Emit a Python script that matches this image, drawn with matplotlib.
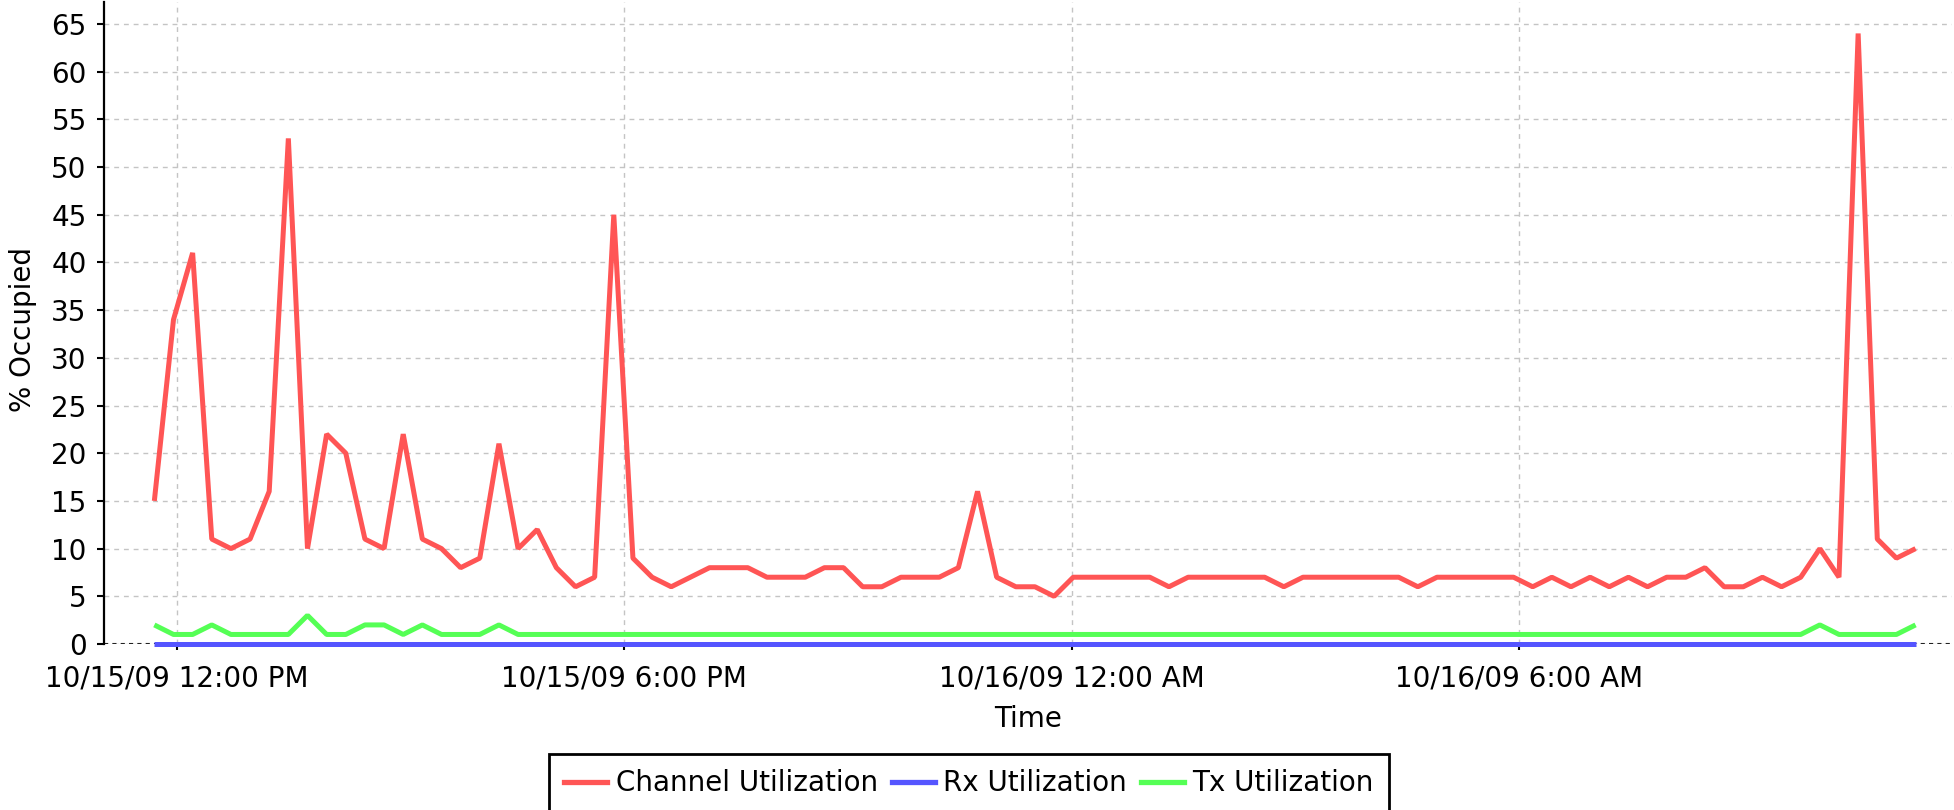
import matplotlib
matplotlib.use("Agg")
import matplotlib.pyplot as plt
import matplotlib.dates as mdates
from matplotlib.ticker import FuncFormatter
from matplotlib.lines import Line2D
import pandas as pd

plt.rcParams['font.family'] = ['DejaVu Sans']

# ---------------- data ----------------
start_time = "2009-10-15 11:42:00"
sample_step = "924s"
x_min = "2009-10-15 11:01:30"
x_max = "2009-10-16 11:48:06"

channel_util = [
    15, 34, 41, 11, 10, 11, 16, 53, 10, 22,
    20, 11, 10, 22, 11, 10, 8, 9, 21, 10,
    12, 8, 6, 7, 45, 9, 7, 6, 7, 8,
    8, 8, 7, 7, 7, 8, 8, 6, 6, 7,
    7, 7, 8, 16, 7, 6, 6, 5, 7, 7,
    7, 7, 7, 6, 7, 7, 7, 7, 7, 6,
    7, 7, 7, 7, 7, 7, 6, 7, 7, 7,
    7, 7, 6, 7, 6, 7, 6, 7, 6, 7,
    7, 8, 6, 6, 7, 6, 7, 10, 7, 64,
    11, 9, 10,
]
rx_util = [
    0, 0, 0, 0, 0, 0, 0, 0, 0, 0,
    0, 0, 0, 0, 0, 0, 0, 0, 0, 0,
    0, 0, 0, 0, 0, 0, 0, 0, 0, 0,
    0, 0, 0, 0, 0, 0, 0, 0, 0, 0,
    0, 0, 0, 0, 0, 0, 0, 0, 0, 0,
    0, 0, 0, 0, 0, 0, 0, 0, 0, 0,
    0, 0, 0, 0, 0, 0, 0, 0, 0, 0,
    0, 0, 0, 0, 0, 0, 0, 0, 0, 0,
    0, 0, 0, 0, 0, 0, 0, 0, 0, 0,
    0, 0, 0,
]
tx_util = [
    2, 1, 1, 2, 1, 1, 1, 1, 3, 1,
    1, 2, 2, 1, 2, 1, 1, 1, 2, 1,
    1, 1, 1, 1, 1, 1, 1, 1, 1, 1,
    1, 1, 1, 1, 1, 1, 1, 1, 1, 1,
    1, 1, 1, 1, 1, 1, 1, 1, 1, 1,
    1, 1, 1, 1, 1, 1, 1, 1, 1, 1,
    1, 1, 1, 1, 1, 1, 1, 1, 1, 1,
    1, 1, 1, 1, 1, 1, 1, 1, 1, 1,
    1, 1, 1, 1, 1, 1, 1, 2, 1, 1,
    1, 1, 2,
]
series_names = ["Channel Utilization", "Rx Utilization", "Tx Utilization"]
series_colors = ["#FF5555", "#5555FF", "#55FF55"]
y_ticks = list(range(0, 70, 5))

times = pd.date_range(start=start_time, periods=len(channel_util), freq=sample_step)

# ---------------- figure ----------------
W, H = 1954, 810
fig = plt.figure(figsize=(W / 100, H / 100), dpi=100)
ax = fig.add_axes([104 / W, 1 - 644 / H, (1952 - 104) / W, (644 - 2) / H])

FS = 20

ax.set_axisbelow(True)
ax.grid(True, color="#C4C4C4", linestyle=(0, (3.5, 3.5)), linewidth=1.0)

ax.axhline(0, color="#222222", linestyle=(0, (2, 2)), linewidth=1.5, zorder=2)

for vals, name, col in zip([channel_util, rx_util, tx_util], series_names, series_colors):
    ax.plot(times, vals, color=col, linewidth=3.6, label=name,
            solid_joinstyle="bevel", solid_capstyle="butt", clip_on=False, zorder=3)

ax.set_xlim(pd.Timestamp(x_min), pd.Timestamp(x_max))
ax.set_ylim(0, 67.3)
ax.set_yticks(y_ticks)


def fmt_time(v, pos=None):
    d = mdates.num2date(v)
    hour = d.hour % 12
    if hour == 0:
        hour = 12
    return d.strftime("%m/%d/%y ") + f"{hour}:{d.minute:02d} " + ("AM" if d.hour < 12 else "PM")


ax.xaxis.set_major_locator(mdates.HourLocator(byhour=[0, 6, 12, 18]))
ax.xaxis.set_major_formatter(FuncFormatter(fmt_time))

for s in ["top", "right", "bottom"]:
    ax.spines[s].set_visible(False)
ax.spines["left"].set_color("black")
ax.spines["left"].set_linewidth(1.6)

ax.tick_params(axis="y", length=5, width=1.5, pad=7.5, labelsize=FS, colors="black")
ax.tick_params(axis="x", length=4.5, width=1.5, pad=10, labelsize=FS, colors="black")

ax.set_ylabel("% Occupied", fontsize=FS)
ax.yaxis.label.set_va("center")
ax.yaxis.set_label_coords((23 - 104) / (1952 - 104), (644 - 330) / 642)

ax.set_xlabel("Time", fontsize=FS)
ax.xaxis.set_label_coords(0.5, (644 - 705) / 642)

handles = [Line2D([0], [0], color=c, linewidth=3.8) for c in series_colors]
leg = fig.legend(handles, series_names, loc="upper center",
                 bbox_to_anchor=(969 / W, 1 - 754 / H), ncol=3, frameon=True,
                 fancybox=False, edgecolor="black", framealpha=1, fontsize=FS,
                 handlelength=1.55, handletextpad=0.3, columnspacing=0.5,
                 borderpad=0.55, borderaxespad=0)
leg.get_frame().set_linewidth(2.0)

fig.savefig("out.png", dpi=100)
